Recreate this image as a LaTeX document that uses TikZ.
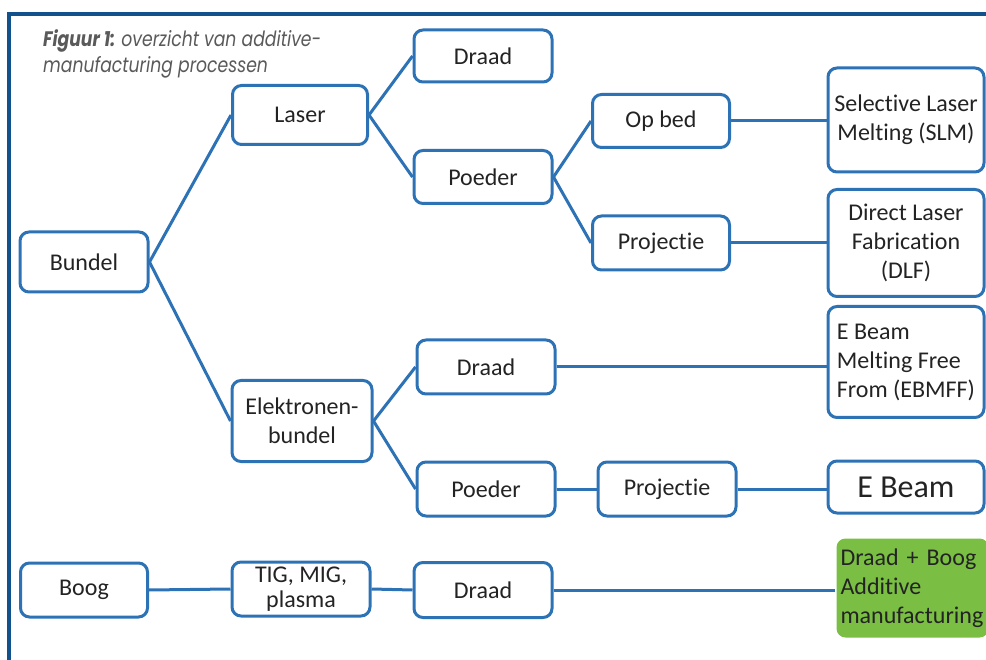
\documentclass[tikz,border=0pt]{standalone}
\usepackage{fontspec}
\setmainfont{Carlito}[RawFeature={-liga;-clig;-calt;-dlig}]
\newfontfamily\capfont{Poppins}
\definecolor{boxblue}{RGB}{46,114,182}
\definecolor{frameblue}{RGB}{18,82,140}
\definecolor{textgray}{RGB}{35,35,35}
\definecolor{capgray}{RGB}{90,90,90}
\definecolor{amgreen}{RGB}{122,190,68}
\tikzset{
  box/.style={draw=boxblue, line width=3pt, rounded corners=9pt, fill=white,
    text=textgray, align=center, inner sep=2pt,
    font=\fontsize{24}{29}\selectfont},
  link/.style={draw=boxblue, line width=3pt},
}

\begin{document}
\begin{tikzpicture}[x=1pt,y=-1pt]
    \clip (0,0) rectangle (986,660);
    \fill[white] (0,0) rectangle (986,660);
    \draw[frameblue, line width=3.5pt] (9,662) -- (9,14) -- (988,14);
    \node[anchor=north west, inner sep=0pt, text=capgray,
      font=\capfont\fontsize{21}{26}\selectfont] (caption) at (43,28)
      {\scalebox{0.82}[1]{\begin{tabular}{@{}l@{}}
        \textbf{\itshape Figuur 1:} \itshape overzicht van additive-\\
        \itshape manufacturing processen
      \end{tabular}}};

    \node[box, minimum width=128pt, minimum height=60pt] (bundel) at (84,262) {Bundel};
    \node[box, minimum width=135pt, minimum height=59pt] (laser) at (300,115) {Laser};
    \node[box, minimum width=140pt, minimum height=81pt] (elek) at (302,421) {Elektronen-\\bundel};
    \node[box, minimum width=138pt, minimum height=52pt] (draadA) at (483,56) {Draad};
    \node[box, minimum width=138pt, minimum height=53pt] (poederA) at (483,177) {Poeder};
    \node[box, minimum width=137pt, minimum height=53pt] (opbed) at (661,121) {Op bed};
    \node[box, minimum width=137pt, minimum height=54pt] (projA) at (661,243) {Projectie};
    \node[box, minimum width=156pt, minimum height=104pt] (slm) at (906,120) {Selective Laser\\Melting (SLM)};
    \node[box, minimum width=156pt, minimum height=107pt] (dlf) at (906,243) {Direct Laser\\Fabrication\\(DLF)};
    \node[box, minimum width=138pt, minimum height=54pt] (draadB) at (486,367) {Draad};
    \node[box, minimum width=138pt, minimum height=54pt] (poederB) at (486,489) {Poeder};
    \node[box, minimum width=138pt, minimum height=54pt] (projB) at (667,489) {Projectie};
    \node[box, minimum width=156pt, minimum height=111pt, align=left] (ebmff) at (906,362) {E Beam\\Melting Free\\From (EBMFF)};
    \node[box, minimum width=156pt, minimum height=52pt, font=\fontsize{32}{38}\selectfont] (ebeam) at (906,487) {E Beam};
    \node[box, minimum width=127pt, minimum height=54pt] (boog) at (84,590) {Boog};
    \node[box, minimum width=138pt, minimum height=54pt, font=\fontsize{24}{25}\selectfont] (tig) at (301,589) {TIG, MIG,\\plasma};
    \node[box, minimum width=138pt, minimum height=55pt] (draadC) at (483,590) {Draad};
    \node[box, draw=none, fill=amgreen, anchor=west, align=left, text width=144pt,
      inner xsep=4pt, minimum height=99pt] (dab) at (835,588) {Draad + Boog\\Additive\\manufacturing};

    \draw[link] (bundel.east) -- (laser.west);
    \draw[link] (bundel.east) -- (elek.west);
    \draw[link] (laser.east) -- (draadA.west);
    \draw[link] (laser.east) -- (poederA.west);
    \draw[link] (poederA.east) -- (opbed.west);
    \draw[link] (poederA.east) -- (projA.west);
    \draw[link] (opbed.east) -- (opbed.east -| slm.west);
    \draw[link] (projA.east) -- (projA.east -| dlf.west);
    \draw[link] (elek.east) -- (draadB.west);
    \draw[link] (elek.east) -- (poederB.west);
    \draw[link] (draadB.east) -- (draadB.east -| ebmff.west);
    \draw[link] (poederB.east) -- (projB.west);
    \draw[link] (projB.east) -- (projB.east -| ebeam.west);
    \draw[link] (boog.east) -- (tig.west);
    \draw[link] (tig.east) -- (draadC.west);
    \draw[link] (draadC.east) -- (draadC.east -| dab.west);
\end{tikzpicture}
\end{document}
